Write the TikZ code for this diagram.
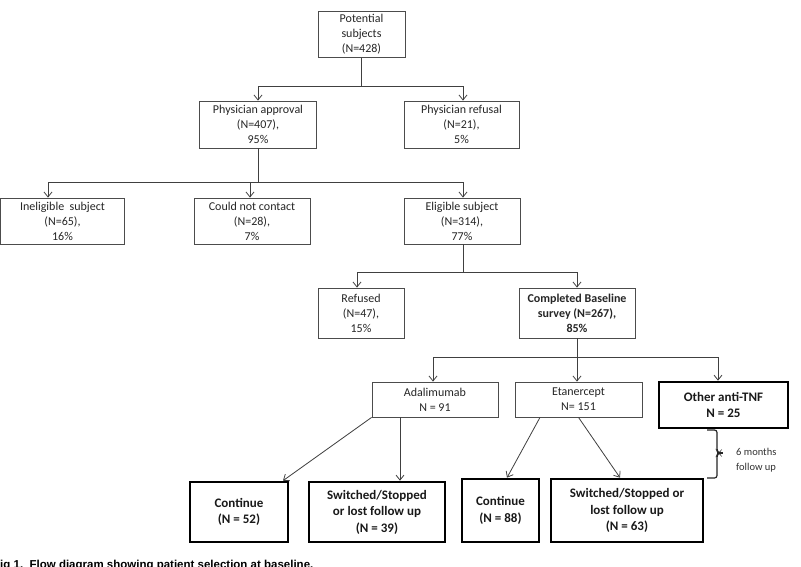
\documentclass[tikz,border=0pt]{standalone}
\usepackage{fontspec}
\setmainfont{Carlito}
\newfontfamily\capfont{Liberation Sans}
\usetikzlibrary{arrows.meta,calc}
\begin{document}
\begin{tikzpicture}[x=1pt,y=-1pt,
  sz/.style 2 args={minimum width=#1, minimum height=#2},
  box/.style={draw=black!70, line width=0.8pt, align=center, inner sep=0pt, text=black!85, font=\fontsize{12}{15}\selectfont},
  boldbox/.style={box, font=\bfseries\fontsize{12}{15}\selectfont},
  heavybox/.style={draw=black, line width=2.6pt, align=center, inner sep=0pt, text=black!90, font=\bfseries\fontsize{13}{16.5}\selectfont},
  arr/.style={-{Straight Barb[length=5pt,width=8pt]}, draw=black!75, line width=0.8pt},
  ln/.style={draw=black!75, line width=0.8pt}]
\useasboundingbox (0,0) rectangle (801,567);
\fill[white] (0,0) rectangle (801,567);

\node[box, sz={87pt}{46pt}] (top) at (361.5,34.5) {Potential\\subjects\\(N=428)};
\node[box, sz={117pt}{47pt}] (appr) at (258,124.5) {Physician approval\\(N=407),\\95\%};
\node[box, sz={115pt}{47pt}] (refu) at (461.5,124.5) {Physician refusal\\(N=21),\\5\%};
\node[box, sz={124pt}{46pt}] (inel) at (62.5,221) {Ineligible\ \ subject\\(N=65),\\16\%};
\node[box, sz={116pt}{46pt}] (cont) at (252,221) {Could not contact\\(N=28),\\7\%};
\node[box, sz={116pt}{46pt}] (elig) at (462,221) {Eligible subject\\(N=314),\\77\%};
\node[box, sz={86pt}{50pt}] (refd) at (361,313) {Refused\\(N=47),\\15\%};
\node[boldbox, sz={116pt}{50pt}] (comp) at (577,313) {Completed Baseline\\survey (N=267),\\85\%};
\node[box, sz={126pt}{35pt}] (adal) at (435,399.5) {Adalimumab\\N = 91};
\node[box, sz={127pt}{35pt}] (etan) at (578.5,399.5) {Etanercept\\N= 151};
\node[heavybox, sz={129pt}{46pt}] (oth) at (723.5,405) {Other anti-TNF\\N = 25};
\node[heavybox, sz={98pt}{60pt}] (c52) at (239,512) {Continue\\(N = 52)};
\node[heavybox, sz={136pt}{60pt}] (s39) at (377,512) {Switched/Stopped\\or lost follow up\\(N = 39)};
\node[heavybox, sz={77pt}{63pt}] (c88) at (500.5,510.5) {Continue\\(N = 88)};
\node[heavybox, sz={152pt}{63pt}] (s63) at (627,510.5) {Switched/Stopped or\\lost follow up\\(N = 63)};

% level 1
\draw[ln] (top.south) -- (361.5,86) coordinate (j1);
\draw[arr] (j1) -| (appr.north);
\draw[arr] (j1) -| ([xshift=1.5pt]refu.north);
% level 2
\draw[ln] (appr.south) -- (258,182) coordinate (j2);
\draw[arr] (j2) -| ([xshift=-14.5pt]inel.north);
\draw[arr] (j2) -| ([xshift=-2pt]cont.north);
\draw[arr] (j2) -| ([xshift=1pt]elig.north);
% level 3
\draw[ln] ([xshift=1pt]elig.south) -- (463,272) coordinate (j3);
\draw[arr] (j3) -| ([xshift=-4pt]refd.north);
\draw[arr] (j3) -| (comp.north);
% level 4
\draw[ln] (comp.south) -- (577,357) coordinate (j4);
\draw[arr] (j4) -| ([xshift=-2pt]adal.north);
\draw[arr] (j4) -| ([xshift=-1.5pt]etan.north);
\draw[arr] (j4) -| ([xshift=-5.5pt]oth.north);
% level 5
\draw[arr] (adal.south west) -- ([xshift=44pt]c52.north);
\draw[arr] ([xshift=-35pt]adal.south) -- ([xshift=-35pt]adal.south |- s39.north);
\draw[arr] ([xshift=-38.5pt]etan.south) -- ([xshift=6.5pt]c88.north);
\draw[arr] (etan.south) -- ([xshift=-7pt]s63.north);

% brace
\coordinate (b1) at (707,430);
\coordinate (b2) at (707,478);
\draw[draw=black!85, line width=1.2pt, rounded corners=2.5pt]
  (b1) -- (717,430) -- (717,451) -- (719,453) -- (717,455) -- (717,478) -- (b2);
\draw[draw=black!85, line width=1.2pt] (718,453) -- (723,453);
\node[align=left, text=black!80, font=\fontsize{10.5}{15}\selectfont, anchor=west, inner sep=0pt] (fu) at (736,460) {6 months\\follow up};

% caption
\node[anchor=base west, inner sep=0pt, font=\capfont\bfseries\fontsize{11.5}{13}\selectfont] (cap) at (-7,568) {Fig 1.\ \ Flow diagram showing patient selection at baseline.};
\end{tikzpicture}
\end{document}
